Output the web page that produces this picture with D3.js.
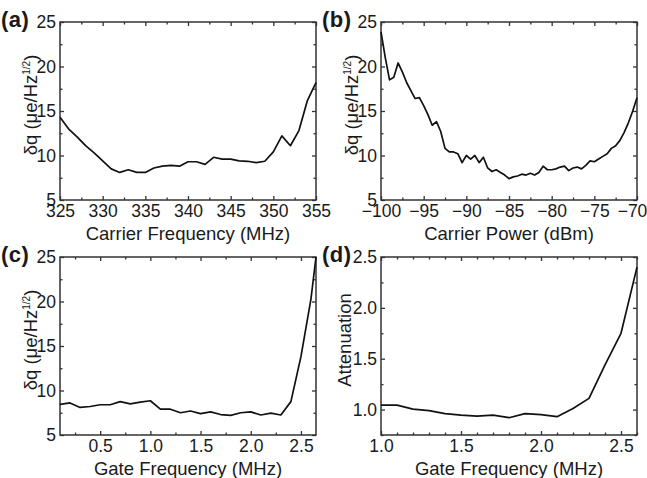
<!DOCTYPE html>
<html>
<head>
<meta charset="utf-8">
<script src="https://cdn.jsdelivr.net/npm/d3@7"></script>
<style>
  body { margin: 0; background: #fff; }
  text { font-family: "Liberation Sans", Arial, sans-serif; fill: #1a1a1a; }
</style>
</head>
<body>
<svg class="panels"></svg>
<script>
// (a) noise vs carrier frequency
var carrierFreq = [325, 326, 327, 328, 329, 330, 331, 332, 333, 334, 335, 336, 337, 338, 339, 340,
    341, 342, 343, 344, 345, 346, 347, 348, 349, 350, 351, 352, 353, 354, 355];
var noiseVsFreq = [14.3, 13.0, 12.1, 11.1, 10.3, 9.4, 8.5, 8.1, 8.4, 8.1, 8.1, 8.6, 8.8, 8.9, 8.8, 9.3,
    9.3, 9.0, 9.8, 9.6, 9.6, 9.4, 9.35, 9.2, 9.35, 10.4, 12.2, 11.1, 12.8, 16.2, 18.2];

// (b) noise vs carrier power
var carrierPower = [-100, -99.5, -99, -98.5, -98, -97.5, -97, -96.5, -96, -95.5, -95, -94.5, -94, -93.5,
    -93, -92.5, -92, -91.5, -91, -90.5, -90, -89.5, -89, -88.5, -88, -87.5, -87, -86.5, -86, -85.5,
    -85, -84.5, -84, -83.5, -83, -82.5, -82, -81.5, -81, -80.5, -80, -79.5, -79, -78.5, -78, -77.5,
    -77, -76.5, -76, -75.5, -75, -74.5, -74, -73.5, -73, -72.5, -72, -71.5, -71, -70.5, -70];
var noiseVsPower = [23.9, 21.0, 18.5, 18.8, 20.4, 19.4, 18.2, 17.3, 16.4, 16.5, 15.6, 14.6, 13.4, 13.8,
    12.7, 10.8, 10.4, 10.4, 10.2, 9.2, 10.0, 9.6, 10.0, 9.2, 9.8, 8.6, 8.2, 8.4, 8.1, 7.8,
    7.4, 7.6, 7.7, 7.9, 7.8, 8.0, 7.8, 8.1, 8.8, 8.4, 8.4, 8.5, 8.7, 8.8, 8.3, 8.6,
    8.7, 8.5, 8.9, 9.4, 9.3, 9.6, 9.9, 10.2, 10.8, 11.1, 11.7, 12.6, 13.7, 15.0, 16.5];

// (c) noise vs gate frequency
var gateFreqC = [0.1, 0.2, 0.3, 0.4, 0.5, 0.6, 0.7, 0.8, 0.9, 1.0, 1.1, 1.2, 1.3, 1.4, 1.5, 1.6,
    1.7, 1.8, 1.9, 2.0, 2.1, 2.2, 2.3, 2.4, 2.5, 2.6, 2.65];
var noiseVsGate = [8.45, 8.6, 8.1, 8.2, 8.4, 8.4, 8.75, 8.5, 8.7, 8.85, 7.9, 7.9, 7.5, 7.7, 7.4, 7.6,
    7.3, 7.2, 7.5, 7.6, 7.25, 7.45, 7.25, 8.75, 13.8, 20.3, 25];

// (d) attenuation vs gate frequency
var gateFreqD = [1.0, 1.1, 1.2, 1.3, 1.4, 1.5, 1.6, 1.7, 1.8, 1.9, 2.0, 2.1, 2.2, 2.3, 2.4, 2.5, 2.6];
var attenuation = [1.044, 1.044, 1.005, 0.99, 0.96, 0.946, 0.936, 0.946, 0.92, 0.96, 0.95, 0.93,
    1.01, 1.11, 1.44, 1.75, 2.40];

// ticks
var freqMajor = [325, 330, 335, 340, 345, 350, 355];
var freqMinor = [327.5, 332.5, 337.5, 342.5, 347.5, 352.5];
var powerMajor = [-100, -95, -90, -85, -80, -75, -70];
var powerMinor = [-97.5, -92.5, -87.5, -82.5, -77.5, -72.5];
var noiseMajor = [5, 10, 15, 20, 25];
var noiseMinor = [7.5, 12.5, 17.5, 22.5];
var gateMajorC = [0.5, 1.0, 1.5, 2.0, 2.5];
var gateMinorC = [0.25, 0.75, 1.25, 1.75, 2.25];
var gateMajorD = [1.0, 1.5, 2.0, 2.5];
var gateMinorD = [1.1, 1.2, 1.3, 1.4, 1.6, 1.7, 1.8, 1.9, 2.1, 2.2, 2.3, 2.4, 2.6];
var attMajor = [1.0, 1.5, 2.0, 2.5];
var attMinor = [0.75, 1.25, 1.75, 2.25];

var svgWidth = 647, svgHeight = 478;
var plotW = 256, plotH = 178;
var tickFont = 17.5, titleFont = 18.5;

var svg = d3.select('svg.panels')
    .attr("width", svgWidth)
    .attr("height", svgHeight)
    .style('background-color', 'white');

function drawPanel(p) {
    var g = svg.append("g")
        .attr("transform", "translate(" + p.left + "," + p.top + ")");

    var xScale = d3.scaleLinear().domain(p.xDomain).range([0, plotW]),
        yScale = d3.scaleLinear().domain(p.yDomain).range([plotH, 0]);

    // labelled axes (ticks point inward)
    var xAxis = g.append("g")
        .attr("transform", "translate(0," + plotH + ")")
        .call(d3.axisBottom(xScale).tickValues(p.xMajor).tickFormat(p.xFormat)
            .tickSizeInner(-4).tickSizeOuter(0).tickPadding(5));
    g.append("g")
        .call(d3.axisLeft(yScale).tickValues(p.yMajor).tickFormat(p.yFormat)
            .tickSizeInner(-4).tickSizeOuter(0).tickPadding(4));
    // mirrored ticks
    g.append("g")
        .call(d3.axisTop(xScale).tickValues(p.xMajor).tickFormat("")
            .tickSizeInner(-4).tickSizeOuter(0));
    g.append("g")
        .attr("transform", "translate(" + plotW + ",0)")
        .call(d3.axisRight(yScale).tickValues(p.yMajor).tickFormat("")
            .tickSizeInner(-4).tickSizeOuter(0));
    // minor ticks
    g.append("g")
        .attr("transform", "translate(0," + plotH + ")")
        .call(d3.axisBottom(xScale).tickValues(p.xMinor).tickFormat("").tickSizeInner(-2.5).tickSizeOuter(0));
    g.append("g")
        .call(d3.axisTop(xScale).tickValues(p.xMinor).tickFormat("").tickSizeInner(-2.5).tickSizeOuter(0));
    g.append("g")
        .call(d3.axisLeft(yScale).tickValues(p.yMinor).tickFormat("").tickSizeInner(-2.5).tickSizeOuter(0));
    g.append("g")
        .attr("transform", "translate(" + plotW + ",0)")
        .call(d3.axisRight(yScale).tickValues(p.yMinor).tickFormat("").tickSizeInner(-2.5).tickSizeOuter(0));

    g.selectAll(".domain").remove();
    g.selectAll(".tick line").attr("stroke", "#333").attr("stroke-width", 1.3);
    g.selectAll(".tick text")
        .style("font-family", '"Liberation Sans", Arial, sans-serif')
        .style("font-size", tickFont + "px")
        .attr("fill", "#1a1a1a");

    // keep the last x label inside the window
    if (p.lastDx) {
        xAxis.selectAll(".tick text").filter(function (d, i, n) { return i === n.length - 1; })
            .attr("dx", p.lastDx);
    }

    g.append("rect")
        .attr("width", plotW)
        .attr("height", plotH)
        .attr("fill", "none")
        .attr("stroke", "#333")
        .attr("stroke-width", 1.5);

    var line = d3.line()
        .x(function (d) { return xScale(d[0]); })
        .y(function (d) { return yScale(d[1]); });

    g.append("path")
        .datum(d3.zip(p.xs, p.ys))
        .attr("d", line)
        .style("fill", "none")
        .style("stroke", "#111")
        .style("stroke-width", "1.7")
        .style("stroke-linejoin", "round");

    // x title
    g.append('text')
        .attr('x', plotW / 2)
        .attr('y', plotH + 40)
        .attr('text-anchor', 'middle')
        .style('font-size', titleFont + 'px')
        .text(p.xTitle);

    // y title
    var yt = g.append('text')
        .attr('text-anchor', 'middle')
        .attr('transform', 'translate(' + p.yTitleX + ',' + (plotH / 2 - 6) + ')rotate(-90)')
        .style('font-size', titleFont + 'px');
    if (p.yTitle) {
        yt.text(p.yTitle);
    } else {
        yt.append('tspan').text('\u03b4q (\u03bce/Hz');
        yt.append('tspan').attr('dy', -7).style('font-size', '10px').text('1/2');
        yt.append('tspan').attr('dy', 7).text(')');
    }

    // panel letter
    svg.append('text')
        .attr('x', p.left - 59)
        .attr('y', p.top + 5)
        .style('font-size', '22px')
        .style('font-weight', 'bold')
        .style('letter-spacing', '0.5px')
        .text(p.letter);
}

var fmtInt = d3.format("d"), fmt1 = d3.format(".1f");

drawPanel({
    left: 60, top: 22, letter: "(a)",
    xDomain: [325, 355], yDomain: [5, 25],
    xMajor: freqMajor, xMinor: freqMinor, yMajor: noiseMajor, yMinor: noiseMinor,
    xFormat: fmtInt, yFormat: fmtInt,
    xs: carrierFreq, ys: noiseVsFreq,
    xTitle: "Carrier Frequency (MHz)", yTitleX: -23
});

drawPanel({
    left: 381, top: 22, letter: "(b)",
    xDomain: [-100, -70], yDomain: [5, 25],
    xMajor: powerMajor, xMinor: powerMinor, yMajor: noiseMajor, yMinor: noiseMinor,
    xFormat: fmtInt, yFormat: fmtInt,
    xs: carrierPower, ys: noiseVsPower,
    xTitle: "Carrier Power (dBm)", yTitleX: -23, lastDx: -5
});

drawPanel({
    left: 60, top: 257, letter: "(c)",
    xDomain: [0.1, 2.65], yDomain: [5, 25],
    xMajor: gateMajorC, xMinor: gateMinorC, yMajor: noiseMajor, yMinor: noiseMinor,
    xFormat: fmt1, yFormat: fmtInt,
    xs: gateFreqC, ys: noiseVsGate,
    xTitle: "Gate Frequency (MHz)", yTitleX: -23
});

drawPanel({
    left: 381, top: 257, letter: "(d)",
    xDomain: [1.0, 2.6], yDomain: [0.75, 2.5],
    xMajor: gateMajorD, xMinor: gateMinorD, yMajor: attMajor, yMinor: attMinor,
    xFormat: fmt1, yFormat: fmt1,
    xs: gateFreqD, ys: attenuation,
    xTitle: "Gate Frequency (MHz)", yTitle: "Attenuation", yTitleX: -30
});
</script>
</body>
</html>
